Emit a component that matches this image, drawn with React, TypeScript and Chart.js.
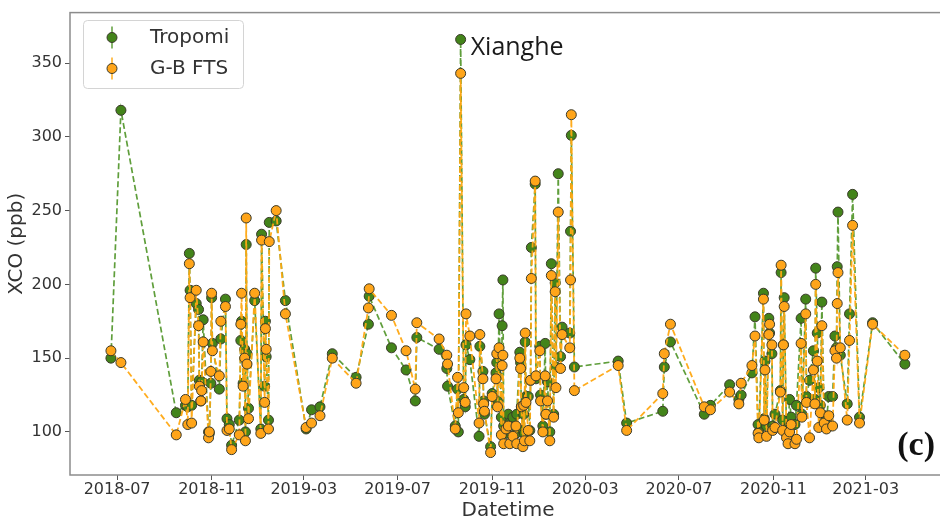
import React, { useEffect, useRef } from 'react';
import { Chart, registerables } from 'chart.js';

Chart.register(...registerables);

// ---- data ----
const dates: string[] = [
  '2018-06-23','2018-07-06','2018-09-16','2018-09-28','2018-10-01','2018-10-03','2018-10-04','2018-10-06',
  '2018-10-12','2018-10-15','2018-10-16','2018-10-18','2018-10-19','2018-10-21','2018-10-28','2018-10-29',
  '2018-10-31','2018-11-01','2018-11-02','2018-11-11','2018-11-13','2018-11-19','2018-11-21','2018-11-24',
  '2018-11-27','2018-12-07','2018-12-09','2018-12-10','2018-12-12','2018-12-14','2018-12-15','2018-12-16',
  '2018-12-17','2018-12-19','2018-12-27','2019-01-04','2019-01-05','2019-01-09','2019-01-10','2019-01-11',
  '2019-01-14','2019-01-15','2019-01-24','2019-02-05','2019-03-04','2019-03-11','2019-03-22','2019-04-07',
  '2019-05-08','2019-05-24','2019-05-25','2019-06-23','2019-07-12','2019-07-24','2019-07-26','2019-08-24',
  '2019-09-03','2019-09-04','2019-09-14','2019-09-17','2019-09-18','2019-09-21','2019-09-25','2019-09-27',
  '2019-09-28','2019-10-03','2019-10-15','2019-10-16','2019-10-20','2019-10-21','2019-10-22','2019-10-30',
  '2019-11-01','2019-11-06','2019-11-07','2019-11-08','2019-11-10','2019-11-13','2019-11-14','2019-11-15',
  '2019-11-16','2019-11-19','2019-11-22','2019-11-24','2019-11-28','2019-12-02','2019-12-03','2019-12-07',
  '2019-12-08','2019-12-09','2019-12-11','2019-12-12','2019-12-13','2019-12-14','2019-12-15','2019-12-18',
  '2019-12-20','2019-12-21','2019-12-22','2019-12-27','2019-12-28','2020-01-02','2020-01-03','2020-01-06',
  '2020-01-09','2020-01-10','2020-01-12','2020-01-15','2020-01-17','2020-01-20','2020-01-22','2020-01-23',
  '2020-01-26','2020-01-29','2020-01-31','2020-02-10','2020-02-11','2020-02-12','2020-02-16','2020-04-13',
  '2020-04-24','2020-06-10','2020-06-12','2020-06-20','2020-08-03','2020-08-11','2020-09-05','2020-09-17',
  '2020-09-20','2020-10-04','2020-10-08','2020-10-12','2020-10-13','2020-10-19','2020-10-20','2020-10-21',
  '2020-10-23','2020-10-26','2020-10-27','2020-10-30','2020-10-31','2020-11-03','2020-11-10','2020-11-11',
  '2020-11-13','2020-11-14','2020-11-15','2020-11-18','2020-11-20','2020-11-22','2020-11-24','2020-11-29',
  '2020-12-01','2020-12-07','2020-12-08','2020-12-13','2020-12-14','2020-12-18','2020-12-23','2020-12-25',
  '2020-12-26','2020-12-28','2020-12-30','2021-01-01','2021-01-03','2021-01-06','2021-01-09','2021-01-12',
  '2021-01-17','2021-01-20','2021-01-22','2021-01-23','2021-01-24','2021-01-27','2021-02-05','2021-02-08',
  '2021-02-12','2021-02-21','2021-03-10','2021-04-21',
];

const tropomi: number[] = [
  150,318,113,118,117,221,196,118,
  187,183,135,121,134,176,100,99,
  133,191,160,129,163,190,109,105,
  91,108,162,175,133,156,100,227,
  153,116,189,102,234,131,175,151,
  108,242,243,189,102,115,117,153,
  137,173,192,157,142,121,164,156,
  143,131,104,129,100,366,122,117,
  159,149,97,158,141,121,112,90,
  126,140,147,121,180,110,172,203,
  104,99,112,106,110,99,112,154,
  147,117,101,112,99,161,124,124,
  101,135,225,268,136,158,125,104,
  160,112,134,100,214,112,201,144,
  275,151,171,167,236,301,144,148,
  106,114,144,161,112,118,132,122,
  125,140,178,105,100,194,109,148,
  104,177,167,153,104,112,128,208,
  108,159,191,99,103,122,110,105,
  118,177,112,190,124,135,155,122,
  211,167,130,118,188,111,108,124,
  124,165,157,212,249,152,119,180,
  261,110,174,146,
];

const gbFts: number[] = [
  155,147,98,122,105,214,191,106,
  196,172,131,121,128,161,96,100,
  141,194,155,138,175,185,101,102,
  88,98,173,194,131,150,94,245,
  146,109,194,99,230,120,170,156,
  102,229,250,180,103,106,111,150,
  133,184,197,179,155,129,174,163,
  152,146,102,137,113,343,130,120,
  180,165,106,166,136,119,114,86,
  124,136,153,117,157,98,145,152,
  92,102,104,92,97,104,92,150,
  143,117,90,118,94,167,120,101,
  94,135,204,270,138,155,121,100,
  138,112,121,94,206,110,195,130,
  249,143,166,157,203,315,128,145,
  101,126,153,173,117,115,127,119,
  133,145,165,99,96,190,108,142,
  97,166,173,159,101,103,127,213,
  101,159,185,96,92,100,105,92,
  95,160,110,180,120,96,142,119,
  200,148,103,113,172,106,102,111,
  104,155,150,187,208,157,108,162,
  240,106,173,152,
];

const xTickLabels: string[] = ['2018-07','2018-11','2019-03','2019-07','2019-11','2020-03','2020-07','2020-11','2021-03'];
const yTickValues: number[] = [100, 150, 200, 250, 300, 350];
const seriesNames: string[] = ['Tropomi', 'G-B FTS'];
const siteName = 'Xianghe';
const panelTag = '(c)';

// ---- helpers ----
const DAY = 86400000;
const ORIGIN = Date.UTC(2018, 6, 1);
const toDay = (s: string) => (Date.parse(s) - ORIGIN) / DAY;
const tickDay = (label: string) => toDay(label + '-01');

const GREEN = '#43841a';
const GREEN_LINE = 'rgba(78,148,38,0.9)';
const ORANGE = '#ffa51a';
const ORANGE_LINE = 'rgba(255,168,18,0.95)';
const EDGE = '#3a3a2a';
const TEXT = '#333333';
const FONT = '"DejaVu Sans", sans-serif';

const overlayPlugin = {
  id: 'overlay',
  afterDatasetsDraw(chart: any) {
    const { ctx, chartArea } = chart;
    const { left, top, right, bottom } = chartArea;
    ctx.save();
    ctx.strokeStyle = '#8c8c8c';
    ctx.lineWidth = 1.5;
    ctx.strokeRect(left, top, right - left, bottom - top);
    ctx.restore();
  },
  afterDraw(chart: any) {
    const { ctx } = chart;
    const xs = chart.scales.x;
    const ys = chart.scales.y;
    ctx.save();
    // legend box
    const bx = 83.5, by = 20.5, bw = 160, bh = 68, r = 4;
    ctx.beginPath();
    ctx.moveTo(bx + r, by);
    ctx.lineTo(bx + bw - r, by);
    ctx.quadraticCurveTo(bx + bw, by, bx + bw, by + r);
    ctx.lineTo(bx + bw, by + bh - r);
    ctx.quadraticCurveTo(bx + bw, by + bh, bx + bw - r, by + bh);
    ctx.lineTo(bx + r, by + bh);
    ctx.quadraticCurveTo(bx, by + bh, bx, by + bh - r);
    ctx.lineTo(bx, by + r);
    ctx.quadraticCurveTo(bx, by, bx + r, by);
    ctx.closePath();
    ctx.fillStyle = 'rgba(255,255,255,0.85)';
    ctx.fill();
    ctx.strokeStyle = '#d4d4d4';
    ctx.lineWidth = 1;
    ctx.stroke();

    const items = [
      { name: seriesNames[0], fill: GREEN, line: GREEN_LINE, y: 37.5 },
      { name: seriesNames[1], fill: ORANGE, line: ORANGE_LINE, y: 68.5 },
    ];
    items.forEach((it) => {
      const mx = 112;
      ctx.strokeStyle = it.line;
      ctx.lineWidth = 1.5;
      ctx.beginPath();
      ctx.moveTo(mx, it.y - 11);
      ctx.lineTo(mx, it.y + 11);
      ctx.stroke();
      ctx.beginPath();
      ctx.arc(mx, it.y, 5, 0, Math.PI * 2);
      ctx.fillStyle = it.fill;
      ctx.fill();
      ctx.strokeStyle = EDGE;
      ctx.lineWidth = 1;
      ctx.stroke();
      ctx.fillStyle = TEXT;
      ctx.font = '20px ' + FONT;
      ctx.textAlign = 'left';
      ctx.textBaseline = 'middle';
      ctx.fillText(it.name, 150, it.y);
    });

    // site annotation next to the highest Tropomi value
    let iMax = 0;
    tropomi.forEach((v, i) => { if (v > tropomi[iMax]) iMax = i; });
    const px = xs.getPixelForValue(toDay(dates[iMax]));
    const py = ys.getPixelForValue(tropomi[iMax]);
    ctx.fillStyle = '#1a1a1a';
    ctx.font = '25px "Open Sans", sans-serif';
    ctx.textAlign = 'left';
    ctx.textBaseline = 'middle';
    ctx.fillText(siteName, px + 10, py + 8);

    // panel tag
    ctx.font = 'bold 34px "Liberation Serif", serif';
    ctx.textAlign = 'right';
    ctx.fillStyle = '#111';
    ctx.fillText(panelTag, 935, 446);
    ctx.restore();
  },
};

export default function App() {
  const ref = useRef<HTMLCanvasElement>(null);
  useEffect(() => {
    if (!ref.current) return;
    const px0 = 117.3, px1 = 869.3, left = 70, right = 950;
    const d0 = tickDay(xTickLabels[0]);
    const d1 = tickDay(xTickLabels[xTickLabels.length - 1]);
    const k = (px1 - px0) / (d1 - d0);
    const xMin = d0 - (px0 - left) / k;
    const xMax = d1 + (right - px1) / k;

    const mk = (vals: number[]) => dates.map((d, i) => ({ x: toDay(d), y: vals[i] }));
    const chart = new Chart(ref.current, {
      type: 'line',
      data: {
        datasets: [
          {
            label: seriesNames[0],
            data: mk(tropomi),
            borderColor: GREEN_LINE,
            borderWidth: 1.7,
            borderDash: [6, 3],
            pointRadius: 5,
            pointBorderWidth: 1,
            pointBackgroundColor: GREEN,
            pointBorderColor: EDGE,
            tension: 0,
            order: 1,
          },
          {
            label: seriesNames[1],
            data: mk(gbFts),
            borderColor: ORANGE_LINE,
            borderWidth: 1.8,
            borderDash: [6, 3],
            pointRadius: 5,
            pointBorderWidth: 1,
            pointBackgroundColor: ORANGE,
            pointBorderColor: EDGE,
            tension: 0,
            order: 0,
          },
        ],
      },
      options: {
        animation: false,
        responsive: false,
        maintainAspectRatio: false,
        layout: { padding: { top: 10, left: 0, right: 2, bottom: 0 } },
        plugins: { legend: { display: false }, tooltip: { enabled: false } },
        scales: {
          x: {
            type: 'linear',
            min: xMin,
            max: xMax,
            afterBuildTicks: (s: any) => { s.ticks = xTickLabels.map((l) => ({ value: tickDay(l) })); },
            afterFit: (s: any) => { s.height = 48; },
            ticks: {
              autoSkip: false,
              maxRotation: 0,
              padding: 0,
              color: TEXT,
              font: { family: FONT, size: 16 },
              callback: (v: any) => {
                const i = xTickLabels.findIndex((l) => Math.abs(tickDay(l) - v) < 0.01);
                return i >= 0 ? xTickLabels[i] : '';
              },
            },
            grid: { drawOnChartArea: false, drawTicks: true, tickLength: 5, color: '#555' },
            border: { display: false },
            title: { display: true, text: 'Datetime', color: TEXT, font: { family: FONT, size: 20 }, padding: { top: 0, bottom: 0 } },
          },
          y: {
            type: 'linear',
            min: 70.8,
            max: 384.2,
            afterBuildTicks: (s: any) => { s.ticks = yTickValues.map((v) => ({ value: v })); },
            afterFit: (s: any) => { s.width = 70; },
            ticks: { padding: 3, color: TEXT, font: { family: FONT, size: 16 } },
            grid: { drawOnChartArea: false, drawTicks: true, tickLength: 5, color: '#555' },
            border: { display: false },
            title: { display: true, text: 'XCO (ppb)', color: TEXT, font: { family: FONT, size: 20 }, padding: { top: 5, bottom: 0 } },
          },
        },
      },
      plugins: [overlayPlugin],
    } as any);
    return () => chart.destroy();
  }, []);

  return (
    <div style={{ position: 'fixed', left: 0, top: 0, width: 940, height: 523, overflow: 'hidden', background: '#fff' }}>
      <canvas ref={ref} width={952} height={523} style={{ width: 952, height: 523, display: 'block' }} />
    </div>
  );
}
